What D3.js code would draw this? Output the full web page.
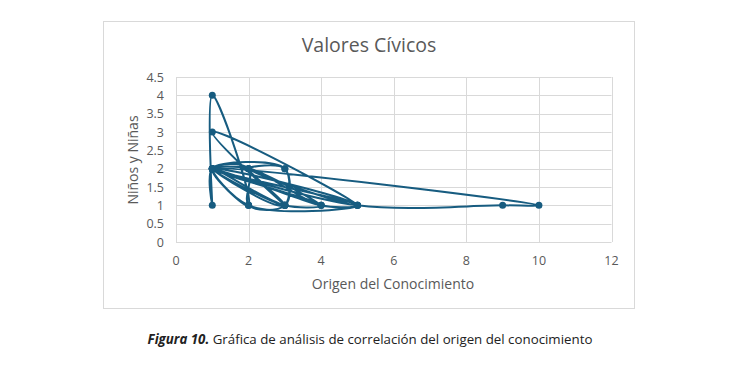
<!DOCTYPE html>
<html>
<head>
<meta charset="utf-8">
<script src="https://cdn.jsdelivr.net/npm/d3@7"></script>
<style>
  body { margin: 0; background: #fff; }
  text { font-family: "Open Sans", "Noto Sans", sans-serif; }
</style>
</head>
<body>
<div id="wrapper"></div>
<script>
// data, in the order Excel joins them
const origen = [3, 1, 5, 2, 3, 3, 2, 2, 1, 1, 1, 2, 1, 3, 3, 1, 4, 2, 3, 1, 5, 2, 1, 3, 4, 1, 2, 4, 5, 1, 10, 9, 5, 1];
const ninos  = [1, 3, 1, 2, 2, 1, 1, 2, 2, 1, 4, 1, 2, 2, 1, 2, 1, 2, 1, 2, 1, 1, 2, 1, 1, 2, 2, 1, 1, 2, 1, 1, 1, 2];
const xTicks = [0, 2, 4, 6, 8, 10, 12];
const yTicks = [0, 0.5, 1, 1.5, 2, 2.5, 3, 3.5, 4, 4.5];
const title = "Valores Cívicos";
const xTitle = "Origen del Conocimiento";
const yTitle = "Niños y Niñas";

const points = origen.map(function (d, i) { return { x: d, y: ninos[i] }; });

const width = 742, height = 371;
const svg = d3.select("#wrapper").append("svg")
  .attr("width", width)
  .attr("height", height);

// chart frame
svg.append("rect")
  .attr("x", 103.5).attr("y", 21.5)
  .attr("width", 531).attr("height", 287)
  .attr("fill", "#fff")
  .attr("stroke", "#d9d9d9");

const xScale = d3.scaleLinear().domain([0, 12]).range([176, 611.5]);
const yScale = d3.scaleLinear().domain([0, 4.5]).range([242, 77]);

// gridlines
svg.append("g").selectAll("line.h")
  .data(yTicks).enter().append("line")
  .attr("x1", xScale(0)).attr("x2", xScale(12))
  .attr("y1", function (d) { return Math.round(yScale(d)) + 0.5; })
  .attr("y2", function (d) { return Math.round(yScale(d)) + 0.5; })
  .attr("stroke", "#d9d9d9").attr("stroke-width", 1);

svg.append("g").selectAll("line.v")
  .data(xTicks).enter().append("line")
  .attr("y1", yScale(0)).attr("y2", yScale(4.5))
  .attr("x1", function (d) { return Math.round(xScale(d)) + 0.5; })
  .attr("x2", function (d) { return Math.round(xScale(d)) + 0.5; })
  .attr("stroke", "#d9d9d9").attr("stroke-width", 1);

// tick labels
svg.append("g").selectAll("text")
  .data(yTicks).enter().append("text")
  .attr("x", 164)
  .attr("y", function (d) { return yScale(d) + 4.5; })
  .attr("text-anchor", "end")
  .attr("font-size", 12.5)
  .attr("fill", "#595959")
  .text(function (d) { return d; });

svg.append("g").selectAll("text")
  .data(xTicks).enter().append("text")
  .attr("x", function (d) { return xScale(d); })
  .attr("y", 265)
  .attr("text-anchor", "middle")
  .attr("font-size", 12.5)
  .attr("fill", "#595959")
  .text(function (d) { return d; });

// titles
svg.append("text")
  .attr("x", 369).attr("y", 52)
  .attr("text-anchor", "middle")
  .attr("font-size", 19.5)
  .attr("fill", "#595959")
  .text(title);

svg.append("text")
  .attr("x", 393).attr("y", 289)
  .attr("text-anchor", "middle")
  .attr("font-size", 14)
  .attr("fill", "#595959")
  .text(xTitle);

svg.append("text")
  .attr("transform", "translate(138,160) rotate(-90)")
  .attr("text-anchor", "middle")
  .attr("font-size", 14)
  .attr("fill", "#595959")
  .text(yTitle);

// smoothed line like Excel
const line = d3.line()
  .x(function (d) { return xScale(d.x); })
  .y(function (d) { return yScale(d.y); })
  .curve(d3.curveCatmullRom.alpha(0.5));

svg.append("path")
  .datum(points)
  .attr("d", line)
  .attr("fill", "none")
  .attr("stroke", "#175c80")
  .attr("stroke-width", 2);

svg.append("g").selectAll("circle")
  .data(points).enter().append("circle")
  .attr("cx", function (d) { return xScale(d.x); })
  .attr("cy", function (d) { return yScale(d.y); })
  .attr("r", 3.5)
  .attr("fill", "#175c80");

// caption
const cap = svg.append("text")
  .attr("x", 370).attr("y", 344)
  .attr("text-anchor", "middle")
  .attr("font-size", 13.3)
  .attr("fill", "#222");
cap.append("tspan").attr("font-weight", "bold").attr("font-style", "italic").text("Figura 10.");
cap.append("tspan").text(" Gráfica de análisis de correlación del origen del conocimiento");
</script>
</body>
</html>
